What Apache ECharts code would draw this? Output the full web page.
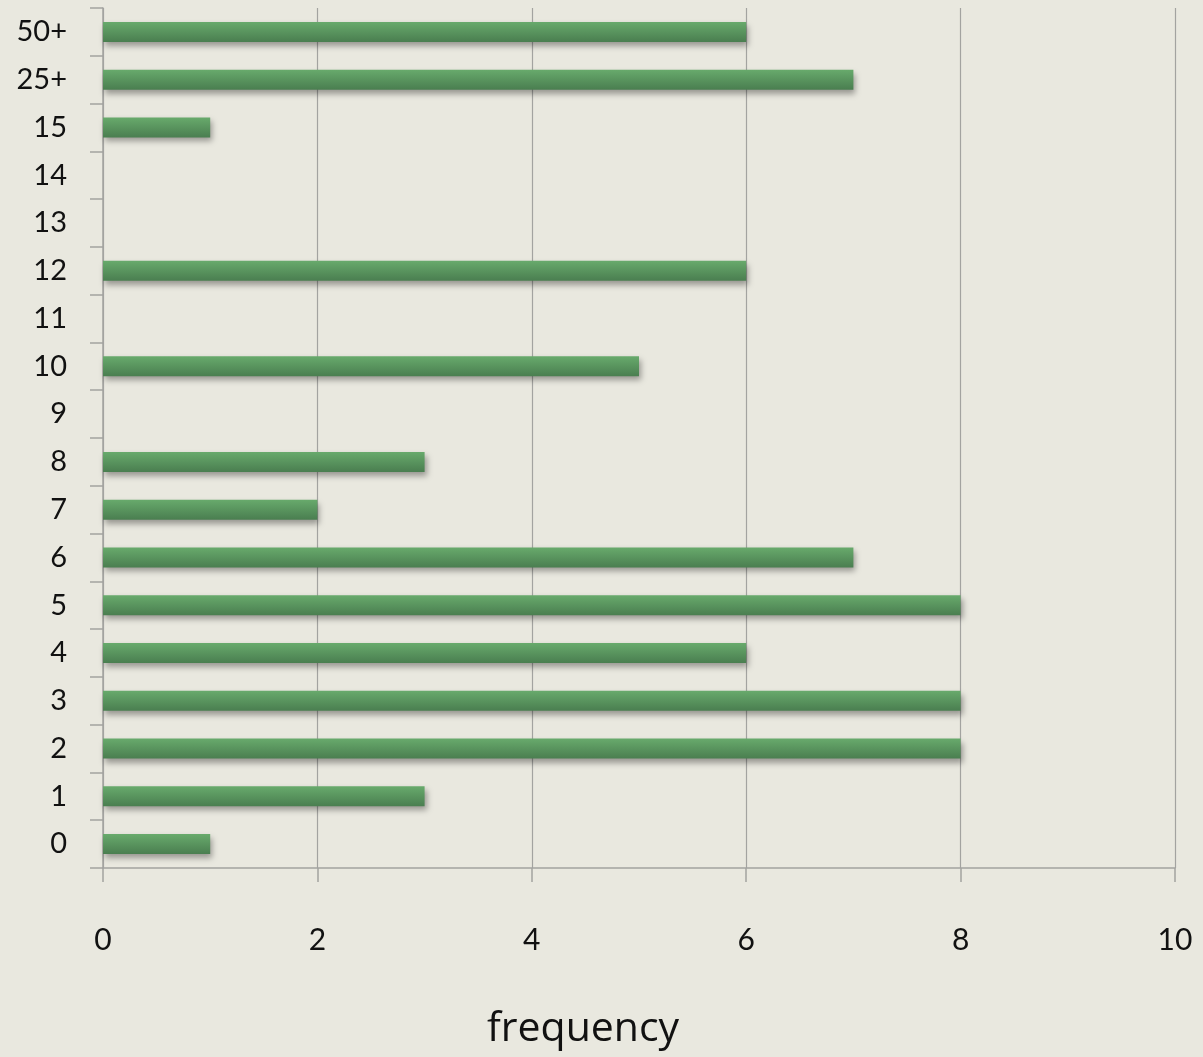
<!DOCTYPE html>
<html>
<head>
<meta charset="utf-8">
<script src="https://cdn.jsdelivr.net/npm/echarts@6/dist/echarts.min.js"></script>
<style>
  html, body { margin: 0; padding: 0; background: #E9E8DF; }
  #chart { width: 1203px; height: 1057px; }
</style>
</head>
<body>
<div id="chart"></div>
<script>
// Category labels, bottom to top
const categories = ['0', '1', '2', '3', '4', '5', '6', '7', '8', '9', '10', '11', '12', '13', '14', '15', '25+', '50+'];
// Frequency for each category
const frequency = [1, 3, 8, 8, 6, 8, 7, 2, 3, 0, 5, 0, 6, 0, 0, 1, 7, 6];
// Value axis ticks
const xTicks = [0, 2, 4, 6, 8, 10];
const xAxisTitle = 'frequency';

const chart = echarts.init(document.getElementById('chart'), null, { renderer: 'canvas' });

const axisGray = '#A3A3A0';

chart.setOption({
  backgroundColor: '#E9E8DF',
  animation: false,
  grid: { left: 103, right: 28, top: 8, bottom: 189, containLabel: false, outerBoundsMode: 'none' },
  graphic: [{
    type: 'text',
    left: 487,
    top: 1009,
    style: { text: xAxisTitle, font: '41px "Open Sans"', fill: '#111' }
  }],
  xAxis: {
    type: 'value',
    min: xTicks[0],
    max: xTicks[xTicks.length - 1],
    interval: xTicks[1] - xTicks[0],
    axisLine: { show: true, lineStyle: { color: axisGray, width: 1.5 } },
    axisTick: { show: true, length: 14, inside: false, lineStyle: { color: axisGray, width: 1.5 } },
    splitLine: { show: true, lineStyle: { color: axisGray, width: 1.2 } },
    axisLabel: { fontFamily: 'Lato', fontSize: 30, color: '#111', margin: 57 }
  },
  yAxis: {
    type: 'category',
    data: categories,
    axisLine: { show: true, lineStyle: { color: axisGray, width: 1.5 } },
    axisTick: { show: true, length: 13, lineStyle: { color: axisGray, width: 1.5 } },
    splitLine: { show: false },
    axisLabel: { fontFamily: 'Lato', fontSize: 29, color: '#111', margin: 36 }
  },
  series: [{
    type: 'bar',
    data: frequency,
    barWidth: 20,
    itemStyle: {
      color: new echarts.graphic.LinearGradient(0, 0, 0, 1, [
        { offset: 0, color: '#68AA6C' },
        { offset: 1, color: '#4A7E50' }
      ]),
      shadowColor: 'rgba(0,0,0,0.35)',
      shadowBlur: 6,
      shadowOffsetX: 2,
      shadowOffsetY: 4
    }
  }]
});
</script>
</body>
</html>
